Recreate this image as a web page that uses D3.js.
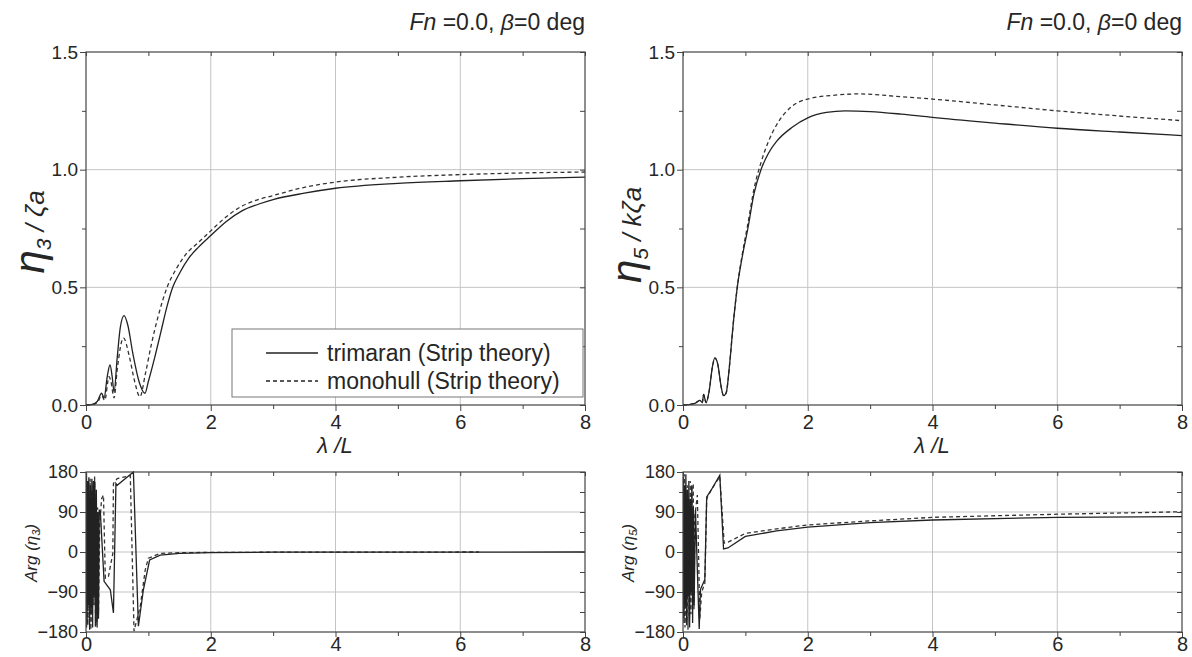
<!DOCTYPE html>
<html>
<head>
<meta charset="utf-8">
<script src="https://cdn.jsdelivr.net/npm/d3@7"></script>
<style>
  body { margin: 0; background: #fff; }
  svg text { font-family: "Liberation Sans", Arial, sans-serif; fill: #262626; }
  .axis path, .axis line { stroke: #444; }
  .grid line { stroke: #c4c4c4; }
</style>
</head>
<body>
<svg width="1192" height="657"></svg>
<script>
// heave amplitude eta3/zeta_a
var heaveTriX = [0, 0.1, 0.18, 0.25, 0.29, 0.34, 0.385, 0.42, 0.45, 0.5, 0.55, 0.61, 0.67, 0.75, 0.85, 0.945, 1.0, 1.1, 1.2, 1.3, 1.39, 1.5, 1.65, 1.8, 2.0, 2.25, 2.5, 2.75, 3.0, 3.5, 4, 5, 6, 7, 8];
var heaveTriY = [0, 0.003, 0.015, 0.05, 0.03, 0.12, 0.17, 0.12, 0.055, 0.2, 0.33, 0.38, 0.34, 0.22, 0.1, 0.05, 0.1, 0.2, 0.31, 0.42, 0.5, 0.56, 0.625, 0.67, 0.72, 0.78, 0.825, 0.852, 0.873, 0.9, 0.921, 0.942, 0.953, 0.962, 0.968];
var heaveMonoX = [0, 0.1, 0.18, 0.25, 0.3, 0.37, 0.4, 0.45, 0.5, 0.6, 0.7, 0.78, 0.865, 0.95, 1.05, 1.15, 1.3, 1.45, 1.6, 1.8, 2.0, 2.25, 2.5, 2.75, 3, 3.5, 4, 5, 6, 7, 8];
var heaveMonoY = [0, 0.002, 0.01, 0.04, 0.02, 0.12, 0.1, 0.03, 0.15, 0.285, 0.2, 0.1, 0.035, 0.13, 0.26, 0.37, 0.5, 0.58, 0.64, 0.69, 0.74, 0.8, 0.845, 0.872, 0.89, 0.925, 0.947, 0.968, 0.979, 0.986, 0.99];

// pitch amplitude eta5/k zeta_a
var pitchTriX = [0, 0.1, 0.2, 0.27, 0.31, 0.33, 0.37, 0.42, 0.47, 0.51, 0.56, 0.61, 0.65, 0.69, 0.75, 0.8, 0.87, 0.95, 1.04, 1.14, 1.25, 1.37, 1.5, 1.75, 2.0, 2.3, 2.6, 3.0, 3.5, 4, 5, 6, 7, 8];
var pitchTriY = [0, 0.002, 0.008, 0.02, 0.01, 0.045, 0.01, 0.06, 0.16, 0.2, 0.17, 0.08, 0.04, 0.05, 0.18, 0.33, 0.5, 0.63, 0.75, 0.9, 1.0, 1.07, 1.12, 1.18, 1.22, 1.243, 1.25, 1.247, 1.236, 1.222, 1.198, 1.176, 1.16, 1.145];
var pitchMonoX = [0, 0.1, 0.2, 0.27, 0.31, 0.33, 0.37, 0.42, 0.47, 0.51, 0.56, 0.61, 0.65, 0.69, 0.75, 0.8, 0.87, 0.95, 1.04, 1.14, 1.25, 1.37, 1.5, 1.75, 2.0, 2.5, 2.8, 3.5, 4, 5, 6, 7, 8];
var pitchMonoY = [0, 0.002, 0.008, 0.02, 0.01, 0.045, 0.01, 0.06, 0.16, 0.2, 0.17, 0.08, 0.04, 0.05, 0.18, 0.33, 0.5, 0.64, 0.77, 0.92, 1.03, 1.12, 1.19, 1.27, 1.3, 1.318, 1.322, 1.31, 1.3, 1.275, 1.25, 1.228, 1.208];

// heave phase Arg(eta3), deg
var argHeaveTriX = [0, 0.008, 0.016, 0.026, 0.036, 0.046, 0.058, 0.07, 0.082, 0.094, 0.106, 0.118, 0.13, 0.142, 0.154, 0.166, 0.178, 0.19, 0.2, 0.212, 0.23, 0.29, 0.39, 0.44, 0.48, 0.5, 0.76, 0.84, 0.92, 1.02, 1.19, 1.5, 2.0, 3.0, 8];
var argHeaveTriY = [-150, 178, -160, 160, -120, 168, -175, 150, -140, 165, -170, 160, -100, 158, -165, 140, -170, 90, -150, 95, 90, -66, -85, -137, 154, 150, 180, -167, -85, -18, -7, -3, -1.5, -0.5, 0];
var argHeaveMonoX = [0, 0.01, 0.02, 0.03, 0.042, 0.054, 0.066, 0.078, 0.09, 0.102, 0.114, 0.126, 0.138, 0.15, 0.162, 0.174, 0.186, 0.2, 0.22, 0.25, 0.28, 0.31, 0.36, 0.43, 0.44, 0.5, 0.71, 0.77, 0.87, 0.95, 1.0, 1.19, 1.5, 2.0, 3.0, 6.3];
var argHeaveMonoY = [170, -170, 150, -165, 120, -150, 165, -175, 140, -160, 150, -120, 170, -168, 130, -160, 100, -140, 60, 120, 128, -59, -55, -3, 154, 165, 172, -178, -122, -40, -14, -3, -1.5, -1, -0.5, 0];

// pitch phase Arg(eta5), deg
var argPitchTriX = [0, 0.008, 0.016, 0.026, 0.036, 0.046, 0.058, 0.07, 0.082, 0.094, 0.106, 0.118, 0.13, 0.142, 0.154, 0.166, 0.178, 0.2, 0.26, 0.28, 0.35, 0.38, 0.45, 0.59, 0.65, 0.72, 1.0, 1.5, 2.0, 3.0, 4.0, 6.0, 8.0];
var argPitchTriY = [-140, 170, -160, 150, -120, 175, -165, 140, -100, 160, -170, 120, -90, 150, -160, 100, -120, 94, -173, -84, -62, 124, 139, 173, 7, 9, 35, 47.5, 56, 66, 72, 78, 79.5];
var argPitchMonoX = [0, 0.01, 0.02, 0.032, 0.044, 0.056, 0.068, 0.08, 0.092, 0.104, 0.116, 0.128, 0.14, 0.152, 0.164, 0.176, 0.19, 0.23, 0.27, 0.3, 0.35, 0.38, 0.45, 0.59, 0.66, 0.72, 1.0, 1.5, 2.0, 3.0, 4.0, 6.0, 8.0];
var argPitchMonoY = [160, -150, 175, -170, 130, -160, 150, -175, 110, -150, 160, -140, 150, -100, 155, -130, 80, 128, -150, -90, -70, 120, 139, 170, 20, 22, 42, 52, 61, 70, 78, 85, 90.5];

var xTicks = [0, 2, 4, 6, 8];
var xMinor = [1, 3, 5, 7];
var ampTicks = [0, 0.5, 1.0, 1.5];
var ampMinor = [0.25, 0.75, 1.25];
var argTicks = [-180, -90, 0, 90, 180];
var argMinor = [-135, -45, 45, 135];

var svg = d3.select('svg');

var zip = function(xs, ys) { return xs.map(function(x, i) { return [x, ys[i]]; }); };

var panels = [
  { left: 86, right: 585, top: 52, bottom: 405, domain: [0, 1.5], ticks: ampTicks, minor: ampMinor, fmt: d3.format('.1f'), font: 19, tick: 6, pad: 4,
    series: [zip(heaveTriX, heaveTriY), zip(heaveMonoX, heaveMonoY)], id: 'a', curve: d3.curveMonotoneX },
  { left: 683, right: 1182, top: 52, bottom: 405, domain: [0, 1.5], ticks: ampTicks, minor: ampMinor, fmt: d3.format('.1f'), font: 19, tick: 6, pad: 4,
    series: [zip(pitchTriX, pitchTriY), zip(pitchMonoX, pitchMonoY)], id: 'b', curve: d3.curveMonotoneX },
  { left: 86, right: 585, top: 472, bottom: 632, domain: [-180, 180], ticks: argTicks, minor: argMinor, fmt: d3.format('d'), font: 18, tick: 5, pad: 0,
    series: [zip(argHeaveTriX, argHeaveTriY), zip(argHeaveMonoX, argHeaveMonoY)], id: 'c', curve: d3.curveLinear },
  { left: 683, right: 1182, top: 472, bottom: 632, domain: [-180, 180], ticks: argTicks, minor: argMinor, fmt: d3.format('d'), font: 18, tick: 5, pad: 0,
    series: [zip(argPitchTriX, argPitchTriY), zip(argPitchMonoX, argPitchMonoY)], id: 'd', curve: d3.curveLinear }
];

panels.forEach(function(p) {
  var x = d3.scaleLinear().domain([0, 8]).range([p.left, p.right]);
  var y = d3.scaleLinear().domain(p.domain).range([p.bottom, p.top]);
  var w = p.right - p.left, h = p.bottom - p.top;

  svg.append('clipPath').attr('id', 'clip' + p.id)
    .append('rect').attr('x', p.left).attr('y', p.top - 1).attr('width', w).attr('height', h + 2);

  // grid
  var grid = svg.append('g').classed('grid', true);
  grid.selectAll('line.v').data([2, 4, 6]).enter().append('line')
    .attr('x1', function(d) { return x(d); }).attr('x2', function(d) { return x(d); })
    .attr('y1', p.top).attr('y2', p.bottom);
  grid.selectAll('line.h').data(p.ticks.slice(1, -1)).enter().append('line')
    .attr('x1', p.left).attr('x2', p.right)
    .attr('y1', function(d) { return y(d); }).attr('y2', function(d) { return y(d); });

  // lines
  var line = d3.line().x(function(d) { return x(d[0]); }).y(function(d) { return y(d[1]); }).curve(p.curve);
  var plot = svg.append('g').attr('clip-path', 'url(#clip' + p.id + ')');
  plot.append('path').datum(p.series[1]).attr('d', line)
    .attr('fill', 'none').attr('stroke', '#333').attr('stroke-width', 1.3).attr('stroke-dasharray', '4,3');
  plot.append('path').datum(p.series[0]).attr('d', line)
    .attr('fill', 'none').attr('stroke', '#222').attr('stroke-width', 1.3);

  // axes
  var bottom = svg.append('g').classed('axis', true).attr('transform', 'translate(0,' + p.bottom + ')')
    .call(d3.axisBottom(x).tickValues(xTicks).tickSize(p.tick).tickPadding(p.pad).tickFormat(d3.format('d')));
  bottom.selectAll('text').style('font-size', '20px');
  svg.append('g').classed('axis', true).attr('transform', 'translate(0,' + p.bottom + ')')
    .call(d3.axisBottom(x).tickValues(xMinor).tickSize(4).tickFormat(''));
  svg.append('g').classed('axis', true).attr('transform', 'translate(0,' + p.top + ')')
    .call(d3.axisTop(x).tickValues(xTicks.concat(xMinor)).tickSize(-4).tickFormat(''));

  var leftAx = svg.append('g').classed('axis', true).attr('transform', 'translate(' + p.left + ',0)')
    .call(d3.axisLeft(y).tickValues(p.ticks).tickSize(6).tickPadding(2).tickFormat(p.fmt));
  leftAx.selectAll('text').style('font-size', p.font + 'px');
  svg.append('g').classed('axis', true).attr('transform', 'translate(' + p.left + ',0)')
    .call(d3.axisLeft(y).tickValues(p.minor).tickSize(4).tickFormat(''));
  svg.append('g').classed('axis', true).attr('transform', 'translate(' + p.right + ',0)')
    .call(d3.axisRight(y).tickValues(p.ticks.concat(p.minor)).tickSize(-5).tickFormat(''));

  svg.selectAll('.axis .domain').remove();
  svg.append('rect').attr('x', p.left).attr('y', p.top).attr('width', w).attr('height', h)
    .attr('fill', 'none').attr('stroke', '#444').attr('stroke-width', 1.2);
});

// titles
[585, 1182].forEach(function(xr) {
  var t = svg.append('text').attr('x', xr).attr('y', 30).attr('text-anchor', 'end').style('font-size', '23px');
  t.append('tspan').style('font-style', 'italic').text('Fn');
  t.append('tspan').text(' =0.0, ');
  t.append('tspan').style('font-style', 'italic').text('β');
  t.append('tspan').text('=0 deg');
});

// x labels
[335, 932].forEach(function(xc) {
  svg.append('text').attr('x', xc).attr('y', 453).attr('text-anchor', 'middle')
    .style('font-size', '22px').style('font-style', 'italic').text('λ /L');
});

// y labels
var yLab = function(xc, yc, sub, pre) {
  var t = svg.append('text').attr('transform', 'translate(' + xc + ',' + yc + ') rotate(-90)')
    .attr('text-anchor', 'middle').style('font-style', 'italic');
  t.append('tspan').style('font-size', '42px').text('η');
  t.append('tspan').style('font-size', '21px').attr('dy', 7).text(sub);
  t.append('tspan').style('font-size', '26px').attr('dy', -7).text(' / ' + pre + 'ζa');
};
yLab(44, 232, '3', '');
yLab(641, 235, '5', 'k');

var argLab = function(xc, sub) {
  var t = svg.append('text').attr('transform', 'translate(' + xc + ',553) rotate(-90)')
    .attr('text-anchor', 'middle').style('font-style', 'italic').style('font-size', '17px');
  t.append('tspan').text('Arg (η');
  t.append('tspan').style('font-size', '11px').attr('dy', 3).text(sub);
  t.append('tspan').attr('dy', -3).text(')');
};
argLab(37, '3');
argLab(634, '5');

// legend
var legend = svg.append('g');
legend.append('rect').attr('x', 232).attr('y', 329).attr('width', 351).attr('height', 68)
  .attr('fill', '#fff').attr('stroke', '#777').attr('stroke-width', 1);
var legendItems = ['trimaran (Strip theory)', 'monohull (Strip theory)'];
legendItems.forEach(function(name, i) {
  var ly = 353 + i * 28;
  legend.append('line').attr('x1', 266).attr('x2', 318).attr('y1', ly).attr('y2', ly)
    .attr('stroke', '#222').attr('stroke-width', 1.3).attr('stroke-dasharray', i ? '4,3' : null);
  legend.append('text').attr('x', 327).attr('y', ly + 8).style('font-size', '23px').text(name);
});
</script>
</body>
</html>
